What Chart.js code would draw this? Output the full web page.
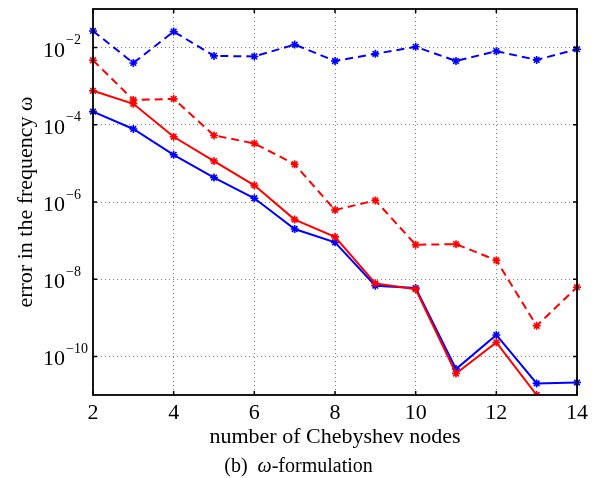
<!DOCTYPE html>
<html>
<head>
<meta charset="utf-8">
<script src="https://cdn.jsdelivr.net/npm/chart.js@4.4.1/dist/chart.umd.min.js"></script>
<style>
    html, body { margin: 0; padding: 0; background: #fff; }
    #wrap { width: 597px; height: 478px; }
</style>
</head>
<body>
<div id="wrap"><canvas id="errChart" width="597" height="478"></canvas></div>
<script>
// values (error in omega vs number of nodes)
var nodes = [2, 3, 4, 5, 6, 7, 8, 9, 10, 11, 12, 13, 14];
var blueDashed = [2.7e-2, 4.0e-3, 2.6e-2, 6.1e-3, 5.9e-3, 1.2e-2, 4.5e-3, 6.9e-3, 1.05e-2, 4.5e-3, 8.1e-3, 4.8e-3, 9.1e-3];
var redDashed = [4.7e-3, 4.4e-4, 4.7e-4, 5.3e-5, 3.3e-5, 9.5e-6, 6.2e-7, 1.1e-6, 7.8e-8, 8.1e-8, 3.1e-8, 6.2e-10, 6.2e-9];
var redSolid = [7.6e-4, 3.5e-4, 4.9e-5, 1.15e-5, 2.7e-6, 3.5e-7, 1.25e-7, 7.8e-9, 5.5e-9, 3.6e-11, 2.3e-10, 1.0e-11, 6.0e-12];
var blueSolid = [2.2e-4, 7.8e-5, 1.67e-5, 4.3e-6, 1.25e-6, 2.0e-7, 9.0e-8, 6.8e-9, 5.9e-9, 4.7e-11, 3.6e-10, 2.0e-11, 2.1e-11];
var yTickExponents = [-10, -8, -6, -4, -2];
var yMinExp = -11;
var yMaxExp = -1;
var xAxisTitle = 'number of Chebyshev nodes';
var yAxisTitle = 'error in the frequency ω';

var serif = '"Liberation Serif", "DejaVu Serif", serif';

function toPoints(values) {
    return nodes.map(function (n, i) { return { x: n, y: values[i] }; });
}

function series(values, color, dashed) {
    return {
        data: toPoints(values),
        borderColor: color,
        backgroundColor: color,
        borderWidth: 2,
        borderDash: dashed ? [8, 5] : [],
        tension: 0,
        pointStyle: 'star',
        pointRadius: 4,
        pointBorderWidth: 1.6,
        pointBorderColor: color,
        pointBackgroundColor: color,
        clip: { left: 6, right: 6, top: 6, bottom: 0 }
    };
}

// frame, inward ticks, superscript y labels, rotated y title, caption
var decorations = {
    id: 'decorations',
    afterDraw: function (chart) {
        var ctx = chart.ctx;
        var a = chart.chartArea;
        var xs = chart.scales.x;
        var ys = chart.scales.y;
        ctx.save();

        ctx.strokeStyle = '#000';
        ctx.lineWidth = 1.5;
        xs.ticks.forEach(function (t) {
            var px = xs.getPixelForValue(t.value);
            ctx.beginPath();
            ctx.moveTo(px, a.bottom); ctx.lineTo(px, a.bottom - 4);
            ctx.moveTo(px, a.top); ctx.lineTo(px, a.top + 4);
            ctx.stroke();
        });
        yTickExponents.forEach(function (e) {
            var py = ys.getPixelForValue(Math.pow(10, e));
            ctx.beginPath();
            ctx.moveTo(a.left, py); ctx.lineTo(a.left + 4, py);
            ctx.moveTo(a.right, py); ctx.lineTo(a.right - 4, py);
            ctx.stroke();
        });
        ctx.lineWidth = 1.8;
        ctx.strokeRect(a.left, a.top, a.right - a.left, a.bottom - a.top);

        ctx.fillStyle = '#000';
        ctx.textBaseline = 'alphabetic';
        ctx.textAlign = 'left';
        yTickExponents.forEach(function (e) {
            var py = ys.getPixelForValue(Math.pow(10, e));
            ctx.font = '22px ' + serif;
            ctx.fillText('10', 43, py + 9);
            var w = ctx.measureText('10').width;
            ctx.font = '14px ' + serif;
            ctx.fillText('\u2212' + Math.abs(e), 43 + w + 1, py - 3.5);
        });

        ctx.save();
        ctx.translate(32, (a.top + a.bottom) / 2);
        ctx.rotate(-Math.PI / 2);
        ctx.textAlign = 'center';
        ctx.font = '22px ' + serif;
        ctx.fillText(yAxisTitle, 0, 0);
        ctx.restore();

        // caption "(b)  ω-formulation", omega in italic
        var parts = [
            { text: '(b)  ', font: '20px ' + serif },
            { text: 'ω', font: 'italic 20px ' + serif },
            { text: '-formulation', font: '20px ' + serif }
        ];
        var total = 0;
        parts.forEach(function (p) { ctx.font = p.font; p.w = ctx.measureText(p.text).width; total += p.w; });
        var cx = chart.width / 2 - total / 2;
        parts.forEach(function (p) {
            ctx.font = p.font;
            ctx.fillText(p.text, cx, 472);
            cx += p.w;
        });
        ctx.restore();
    }
};

var ctx = document.getElementById('errChart').getContext('2d');
new Chart(ctx, {
    type: 'line',
    data: {
        datasets: [
            series(blueDashed, '#0000ff', true),
            series(redDashed, '#ff0000', true),
            series(redSolid, '#ff0000', false),
            series(blueSolid, '#0000ff', false)
        ]
    },
    options: {
        responsive: false,
        animation: false,
        layout: { padding: { left: 93, right: 20, top: 9, bottom: 30 } },
        plugins: {
            legend: { display: false },
            tooltip: { enabled: false }
        },
        scales: {
            x: {
                type: 'linear',
                min: 2,
                max: 14,
                // outer tick marks kept invisible, they only space the labels
                grid: { color: 'rgba(0,0,0,0.5)', lineWidth: 1, drawTicks: true, tickLength: 5, tickColor: 'rgba(0,0,0,0)' },
                border: { display: false, dash: [1, 3] },
                ticks: {
                    stepSize: 2,
                    padding: 4,
                    color: '#000',
                    font: { family: serif, size: 22, lineHeight: 0.818 }
                },
                title: {
                    display: true,
                    text: xAxisTitle,
                    color: '#000',
                    font: { family: serif, size: 22, lineHeight: 1 },
                    padding: { top: 0, bottom: 0 }
                }
            },
            y: {
                type: 'logarithmic',
                min: Math.pow(10, yMinExp),
                max: Math.pow(10, yMaxExp),
                afterBuildTicks: function (scale) {
                    scale.ticks = yTickExponents.map(function (e) { return { value: Math.pow(10, e) }; });
                },
                grid: { color: 'rgba(0,0,0,0.5)', lineWidth: 1, drawTicks: false },
                border: { display: false, dash: [1, 3] },
                ticks: { display: false }
            }
        }
    },
    plugins: [decorations]
});
</script>
</body>
</html>
